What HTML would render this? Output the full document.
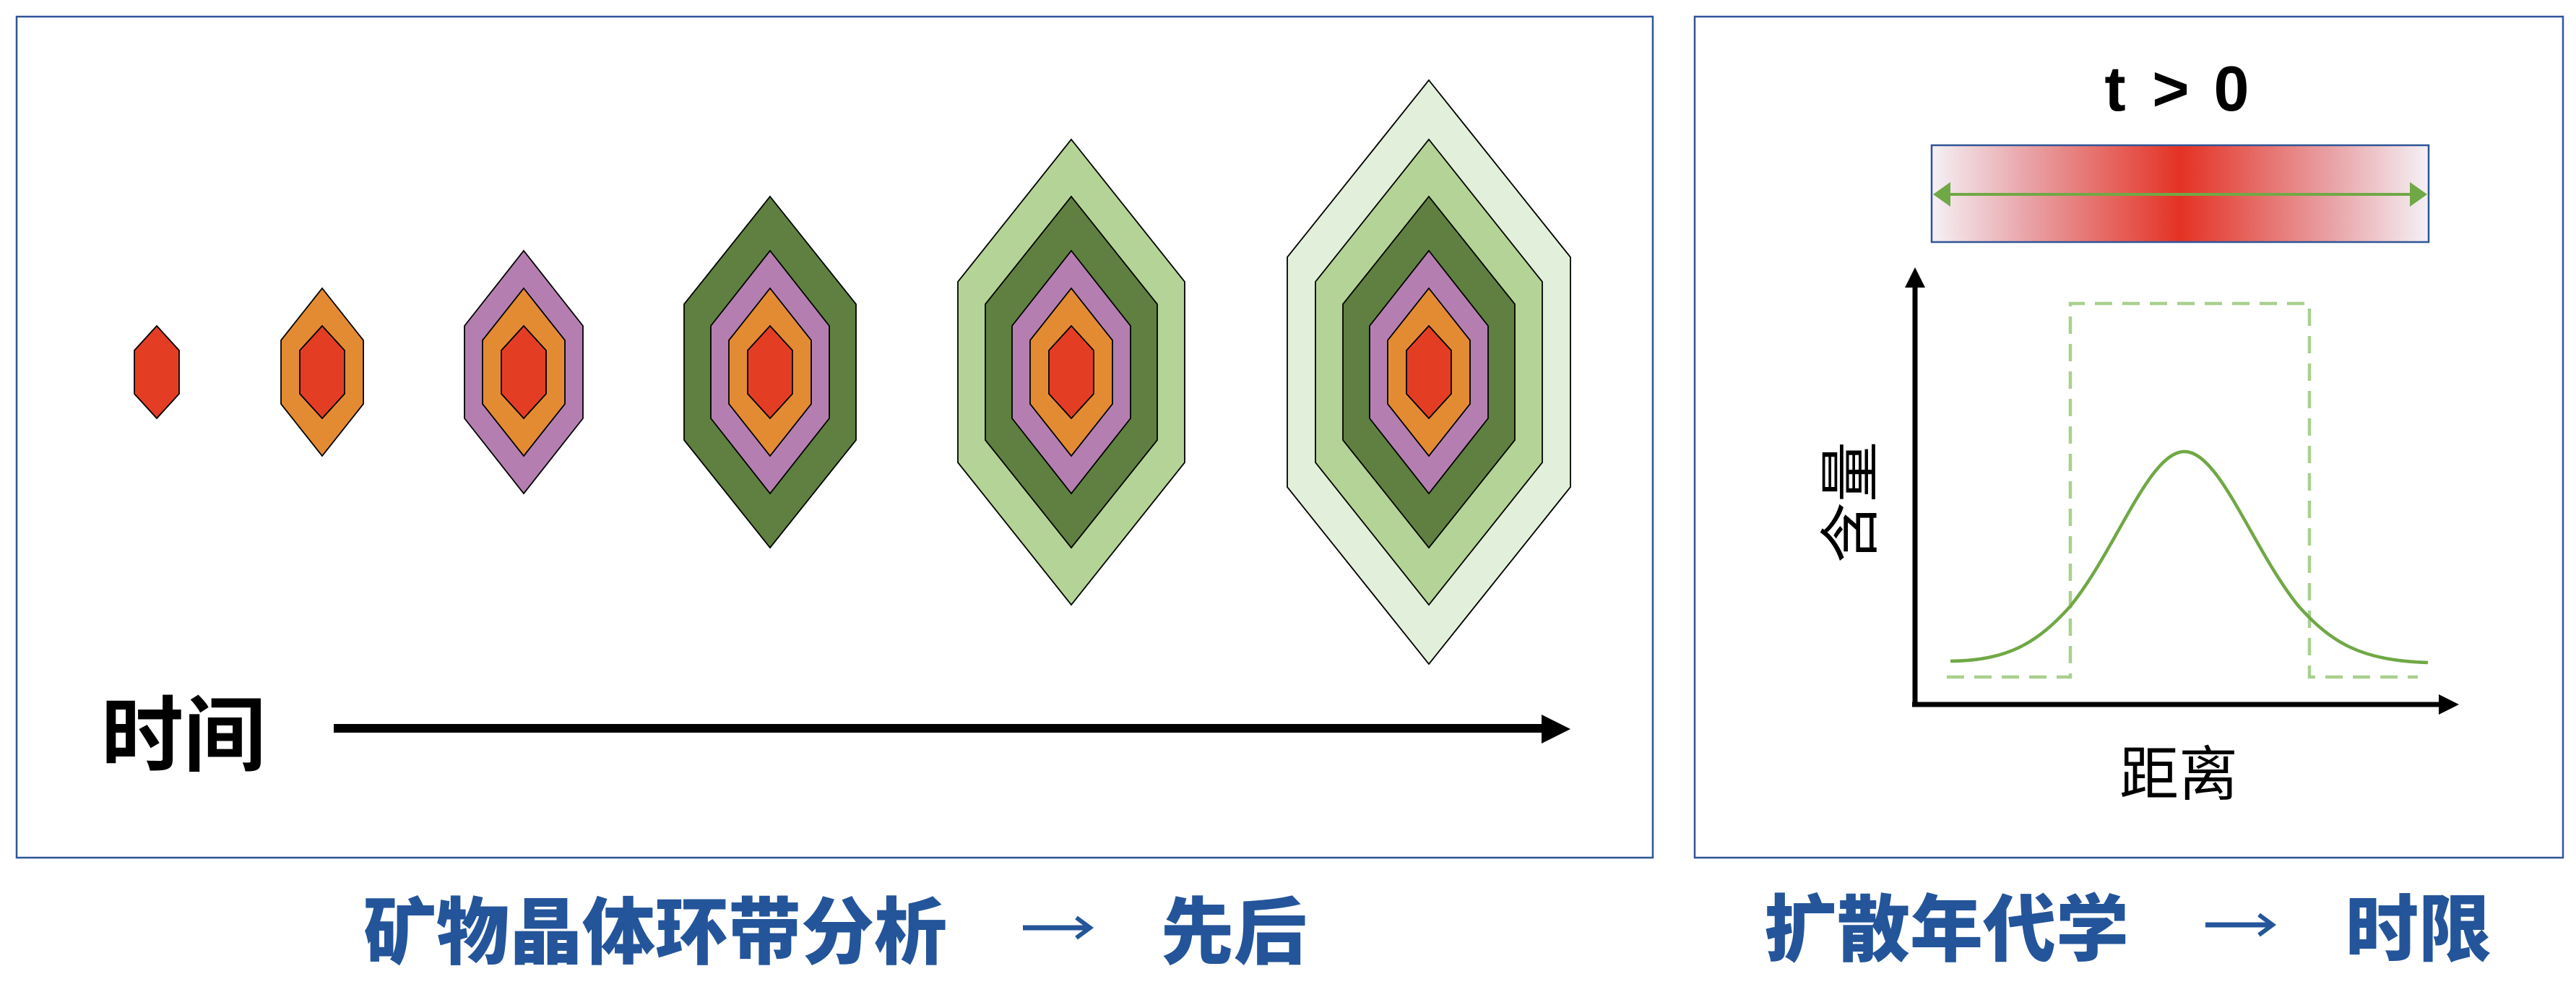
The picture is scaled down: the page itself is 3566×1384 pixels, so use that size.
<!DOCTYPE html>
<html><head><meta charset="utf-8"><style>
html,body{margin:0;padding:0;background:#fff;}
svg{display:block;}
</style></head><body>
<svg width="3566" height="1384" viewBox="0 0 3566 1384" xmlns="http://www.w3.org/2000/svg">
<defs>
<polygon id="pR" points="0,-64 31,-30 31,30 0,64 -31,30 -31,-30" fill="#e33d24" stroke="#000" stroke-width="1.8"/>
<polygon id="pO" points="0,-116 57,-44 57,44 0,116 -57,44 -57,-44" fill="#e38b33" stroke="#000" stroke-width="1.8"/>
<polygon id="pP" points="0,-168 82,-64 82,64 0,168 -82,64 -82,-64" fill="#b47fb0" stroke="#000" stroke-width="1.8"/>
<polygon id="pD" points="0,-243 119,-94 119,94 0,243 -119,94 -119,-94" fill="#5f8040" stroke="#000" stroke-width="1.8"/>
<polygon id="pL" points="0,-322 157,-125 157,125 0,322 -157,125 -157,-125" fill="#b4d396" stroke="#000" stroke-width="1.8"/>
<polygon id="pW" points="0,-404 196,-159 196,159 0,404 -196,159 -196,-159" fill="#e2efda" stroke="#000" stroke-width="1.8"/>
<linearGradient id="gb" x1="0" x2="1" y1="0" y2="0">
<stop offset="0" stop-color="#f4f1f6"/>
<stop offset="0.2" stop-color="#e8a0a4"/>
<stop offset="0.5" stop-color="#e43224"/>
<stop offset="0.8" stop-color="#e8a0a4"/>
<stop offset="1" stop-color="#f4f1f6"/>
</linearGradient>
</defs>

<rect x="23" y="23" width="2265" height="1164" fill="none" stroke="#2f5597" stroke-width="2.5"/>
<rect x="2346" y="23" width="1202" height="1164" fill="none" stroke="#2f5597" stroke-width="2.5"/>

<use href="#pR" x="217" y="515"/>

<use href="#pO" x="446" y="515"/>
<use href="#pR" x="446" y="515"/>

<use href="#pP" x="725" y="515"/>
<use href="#pO" x="725" y="515"/>
<use href="#pR" x="725" y="515"/>

<use href="#pD" x="1066" y="515"/>
<use href="#pP" x="1066" y="515"/>
<use href="#pO" x="1066" y="515"/>
<use href="#pR" x="1066" y="515"/>

<use href="#pL" x="1483" y="515"/>
<use href="#pD" x="1483" y="515"/>
<use href="#pP" x="1483" y="515"/>
<use href="#pO" x="1483" y="515"/>
<use href="#pR" x="1483" y="515"/>

<use href="#pW" x="1978" y="515"/>
<use href="#pL" x="1978" y="515"/>
<use href="#pD" x="1978" y="515"/>
<use href="#pP" x="1978" y="515"/>
<use href="#pO" x="1978" y="515"/>
<use href="#pR" x="1978" y="515"/>

<line x1="462" y1="1008" x2="2140" y2="1008" stroke="#000" stroke-width="12"/>
<polygon points="2134,989 2174,1009 2134,1029" fill="#000"/>
<text x="140" y="1058" font-family="'Liberation Sans','Noto Sans CJK SC',sans-serif" font-weight="bold" font-size="114" fill="#000">时间</text>

<text x="503" y="1326" font-family="'Liberation Sans','Noto Sans CJK SC',sans-serif" font-weight="900" font-size="101" fill="#24559a">矿物晶体环带分析</text>
<line x1="1416" y1="1284" x2="1506" y2="1284" stroke="#24559a" stroke-width="7"/>
<polyline points="1490,1270 1509,1284 1490,1298" fill="none" stroke="#24559a" stroke-width="6"/>
<text x="1607" y="1326" font-family="'Liberation Sans','Noto Sans CJK SC',sans-serif" font-weight="900" font-size="101" fill="#24559a">先后</text>

<text x="2928" y="153" text-anchor="middle" font-family="'Liberation Sans',sans-serif" font-weight="bold" font-size="88" fill="#000">t</text>
<text x="3005" y="153" text-anchor="middle" font-family="'Liberation Sans',sans-serif" font-weight="bold" font-size="88" fill="#000">&gt;</text>
<text x="3089" y="153" text-anchor="middle" font-family="'Liberation Sans',sans-serif" font-weight="bold" font-size="88" fill="#000">0</text>
<rect x="2674" y="201" width="688" height="134" fill="url(#gb)" stroke="#2f5597" stroke-width="2.5"/>
<line x1="2690" y1="269" x2="3346" y2="269" stroke="#70a845" stroke-width="4"/>
<polygon points="2676,269 2700,252 2700,286" fill="#70a845"/>
<polygon points="3360,269 3336,252 3336,286" fill="#70a845"/>

<line x1="2651" y1="395" x2="2651" y2="978" stroke="#000" stroke-width="7"/>
<polygon points="2651,370 2637,398 2665,398" fill="#000"/>
<line x1="2647" y1="975" x2="3380" y2="975" stroke="#000" stroke-width="7"/>
<polygon points="3404,975 3376,961 3376,989" fill="#000"/>

<polyline points="2695,937 2866,937 2866,420 3197,420 3197,937 3347,937" fill="none" stroke="#a9d08e" stroke-width="4.5" stroke-dasharray="24,14"/>

<path fill="none" stroke="#70a845" stroke-width="4.5" stroke-linejoin="round" d="M2700,915 C2780,914 2820,890 2866,839 C2930,760 2975,625 3024,625 C3073,625 3118,760 3182,839 C3228,890 3268,914 3361,917"/>

<text transform="translate(2591,695) rotate(-90)" text-anchor="middle" font-family="'Liberation Sans','Noto Sans CJK SC',sans-serif" font-size="84" fill="#000">含量</text>
<text x="3016" y="1100" text-anchor="middle" font-family="'Liberation Sans','Noto Sans CJK SC',sans-serif" font-size="82" fill="#000">距离</text>

<text x="2442" y="1322" font-family="'Liberation Sans','Noto Sans CJK SC',sans-serif" font-weight="900" font-size="101" fill="#24559a">扩散年代学</text>
<line x1="3053" y1="1280" x2="3143" y2="1280" stroke="#24559a" stroke-width="7"/>
<polyline points="3127,1266 3146,1280 3127,1294" fill="none" stroke="#24559a" stroke-width="6"/>
<text x="3247" y="1322" font-family="'Liberation Sans','Noto Sans CJK SC',sans-serif" font-weight="900" font-size="101" fill="#24559a">时限</text>
</svg>
</body></html>
